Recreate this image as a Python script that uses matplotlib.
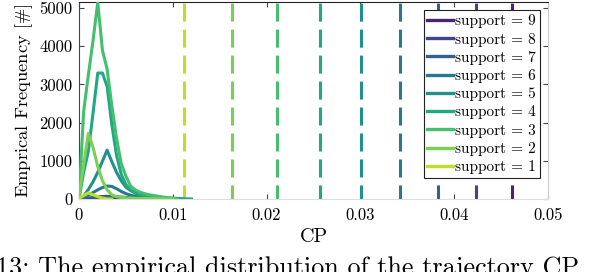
import numpy as np
import matplotlib
matplotlib.use("Agg")
import matplotlib.pyplot as plt

plt.rcParams["font.family"] = "serif"
plt.rcParams["font.serif"] = ["cmr10"]
plt.rcParams["mathtext.fontset"] = "cm"
plt.rcParams["axes.formatter.use_mathtext"] = True

# histogram bins of CP
cp = [0, 0.0005, 0.001, 0.0015, 0.002, 0.0025, 0.003, 0.0035, 0.004, 0.0045,
      0.005, 0.0055, 0.006, 0.0065, 0.007, 0.0075, 0.008, 0.0085, 0.009,
      0.0095, 0.01, 0.0105, 0.011, 0.0115, 0.012]

# empirical frequency per support (index 0 -> support 1)
freq_s1 = [20, 90, 160, 110, 60, 25, 5, 0]
freq_s2 = [60, 900, 1720, 1350, 850, 480, 240, 110, 60, 40, 30, 25, 20, 17,
           15, 12, 10, 7, 5, 3, 0]
freq_s3 = [0, 2300, 3250, 4150, 5150, 3900, 3400, 2450, 1600, 930, 600, 340,
           240, 180, 140, 110, 90, 70, 50, 35, 20, 0]
freq_s4 = [0, 700, 1250, 2250, 3300, 3300, 2950, 1950, 1150, 650, 380, 240,
           150, 120, 95, 75, 60, 45, 35, 25, 20, 15, 10, 5, 0]
freq_s5 = [0, 80, 250, 450, 700, 990, 1280, 980, 700, 480, 310, 220, 160,
           120, 90, 70, 50, 35, 20, 10, 0]
freq_s6 = [0, 40, 100, 170, 240, 300, 340, 330, 270, 200, 140, 100, 70, 55,
           40, 30, 20, 10, 5, 0]
freq_s7 = [0, 10, 25, 40, 55, 65, 70, 70, 60, 50, 40, 30, 25, 20, 15, 10, 8,
           5, 3, 0]
freq_s8 = [0, 3, 8, 12, 15, 18, 20, 18, 15, 12, 10, 8, 6, 4, 3, 2, 1, 0]
freq_s9 = [0, 1, 2, 3, 4, 5, 5, 4, 3, 2, 1, 0]
freqs = [freq_s1, freq_s2, freq_s3, freq_s4, freq_s5, freq_s6, freq_s7,
         freq_s8, freq_s9]

supports = [1, 2, 3, 4, 5, 6, 7, 8, 9]
# threshold (dashed) per support
thresholds = [0.01119, 0.01631, 0.02111, 0.02569, 0.03006, 0.03422, 0.03827,
              0.04232, 0.04616]

xticks = [0, 0.01, 0.02, 0.03, 0.04, 0.05]
xticklabels = ["0", "0.01", "0.02", "0.03", "0.04", "0.05"]
yticks = [0, 1000, 2000, 3000, 4000, 5000]
yticklabels = ["0", "1000", "2000", "3000", "4000", "5000"]

colors = plt.cm.viridis(np.linspace(0.9, 0.1, 9))

fig = plt.figure(figsize=(5.92, 2.72), dpi=100)
ax = fig.add_axes([0.1334, 0.2684, 0.7923, 0.7242])

for i in range(8, -1, -1):
    f = freqs[i]
    ax.plot(cp[:len(f)], f, color=colors[i], lw=2.2,
            label="support = %d" % supports[i], zorder=3 + (9 - i) * 0.1)
    ax.axvline(thresholds[i], color=colors[i], lw=2.2,
               linestyle=(1.3, (5.9, 2.6)), zorder=2)

ax.set_xlim(0, 0.05)
ax.set_ylim(0, 5160)
ax.set_xticks(xticks)
ax.set_xticklabels(xticklabels)
ax.set_yticks(yticks)
ax.set_yticklabels(yticklabels)
ax.tick_params(direction="in", top=True, right=True, length=3.5,
               color="#444444", labelsize=12)
ax.tick_params(axis="x", pad=6)
ax.tick_params(axis="y", pad=4.5)
ax.set_xlabel("CP", fontsize=14.5, labelpad=4)
ax.set_ylabel(r"Emprical Frequency [$\#$]", fontsize=13.3, labelpad=3)

ax.spines["top"].set_color("#222222")
ax.spines["left"].set_color("#444444")
ax.spines["right"].set_color("#cccccc")
ax.spines["bottom"].set_color("#dddddd")

leg = ax.legend(loc="upper right", fontsize=11, fancybox=False,
                framealpha=1, edgecolor="#222222", labelspacing=0.28,
                handlelength=1.65, handletextpad=0.15, borderpad=0.25,
                borderaxespad=0.55)
leg.get_frame().set_linewidth(0.8)
for ln in leg.get_lines():
    ln.set_linewidth(2.4)

fig.text(-0.006, -0.011, "13: The empirical distribution of the trajectory CP",
         fontsize=18.8, ha="left", va="baseline")

fig.savefig("out.png", dpi=100)
